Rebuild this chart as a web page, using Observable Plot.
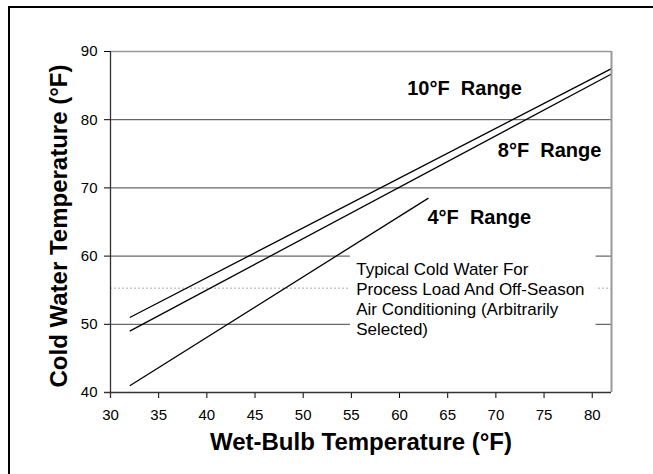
<!DOCTYPE html>
<html>
<head>
<meta charset="utf-8">
<script src="https://cdn.jsdelivr.net/npm/d3@7"></script>
<script src="https://cdn.jsdelivr.net/npm/@observablehq/plot@0.6"></script>
<style>
  html, body { margin: 0; padding: 0; background: white; overflow: hidden; }
  #wrap { position: relative; width: 653px; height: 474px; }
  #border { position: absolute; left: 8px; top: 6px; width: 700px; height: 520px;
            border-left: 2px solid #000; border-top: 2px solid #000; box-sizing: border-box; }
  #chart { position: absolute; left: 0; top: 0; }
</style>
</head>
<body>
<div id="wrap"><div id="border"></div><div id="chart"></div></div>
<script>
// ---- data ----
const rangeNames   = ["10°F Range", "8°F Range", "4°F Range"];
const wetBulbStart = [32, 32, 32];
const wetBulbEnd   = [82, 82, 63];
const coldStart    = [51, 49, 41];
const coldEnd      = [87.5, 86.7, 68.5];

const rangeLabels  = ["10°F\u00A0 Range", "8°F\u00A0 Range", "4°F\u00A0 Range"];
const labelWetBulb = [60.8, 70.2, 62.9];
const labelCold    = [84.6, 75.4, 65.6];

const xTicks = [30, 35, 40, 45, 50, 55, 60, 65, 70, 75, 80];
const yTicks = [40, 50, 60, 70, 80, 90];
const gridValues = [50, 60, 70, 80];
const typicalCold = [55.3];

const noteLines = ["Typical Cold Water For", "Process Load And Off-Season", "Air Conditioning (Arbitrarily", "Selected)"];
const noteWetBulb = [55.5];
const noteCold = [59.4];
const noteBoxX = [54.9, 80.4];
const noteBoxY = [48.2, 61];

const xTitle = "Wet-Bulb Temperature (°F)";
const yTitle = "Cold Water Temperature (°F)";

// ---- tables ----
const lines = rangeNames.map((n, i) => ({name: n, x1: wetBulbStart[i], x2: wetBulbEnd[i], y1: coldStart[i], y2: coldEnd[i]}));
const labels = rangeLabels.map((t, i) => ({text: t, x: labelWetBulb[i], y: labelCold[i]}));
const note = [{text: noteLines.join("\n"), x: noteWetBulb[0], y: noteCold[0]}];
const box = [{x1: noteBoxX[0], x2: noteBoxX[1], y1: noteBoxY[0], y2: noteBoxY[1]}];

const chart = Plot.plot({
  width: 653,
  height: 474,
  marginLeft: 110,
  marginRight: 42,
  marginTop: 51,
  marginBottom: 82,
  x: {domain: [30, 82]},
  y: {domain: [40, 90]},
  style: {fontFamily: "'Liberation Sans', Arial, sans-serif", fontSize: "15px", background: "transparent", color: "black"},
  marks: [
    Plot.ruleY(gridValues, {stroke: "#444", strokeWidth: 1}),
    Plot.ruleY(typicalCold, {stroke: "#aaa", strokeDasharray: "2,2", strokeWidth: 1}),
    Plot.rect(box, {x1: "x1", x2: "x2", y1: "y1", y2: "y2", fill: "white"}),
    Plot.text(note, {x: "x", y: "y", text: "text", textAnchor: "start", lineAnchor: "top", lineHeight: 1.19, fontSize: 17, fill: "black"}),
    Plot.link(lines, {x1: "x1", y1: "y1", x2: "x2", y2: "y2", stroke: "black", strokeWidth: 1.3}),
    Plot.text(labels, {x: "x", y: "y", text: "text", textAnchor: "start", lineAnchor: "middle", fontSize: 20, fontWeight: "bold", fill: "black"}),
    Plot.ruleY([90], {stroke: "#999", strokeWidth: 1.5}),
    Plot.ruleX([82], {stroke: "#999", strokeWidth: 2}),
    Plot.axisX({ticks: xTicks, tickSize: 6, tickPadding: 11, label: null, fontSize: 15}),
    Plot.axisY({ticks: yTicks, tickSize: 6, tickPadding: 7, label: null, fontSize: 15}),
    Plot.ruleX([30], {stroke: "#333", strokeWidth: 1.3, insetBottom: -6}),
    Plot.ruleY([40], {stroke: "#333", strokeWidth: 1.3, insetLeft: -6}),
    Plot.text([xTitle], {frameAnchor: "bottom", textAnchor: "middle", lineAnchor: "middle", dy: 50, fontSize: 24, fontWeight: "bold", fill: "black"}),
    Plot.text([yTitle], {frameAnchor: "left", textAnchor: "middle", lineAnchor: "middle", rotate: -90, dx: -51, dy: 4, fontSize: 24, fontWeight: "bold", fill: "black"})
  ]
});
document.getElementById("chart").appendChild(chart);
</script>
</body>
</html>
